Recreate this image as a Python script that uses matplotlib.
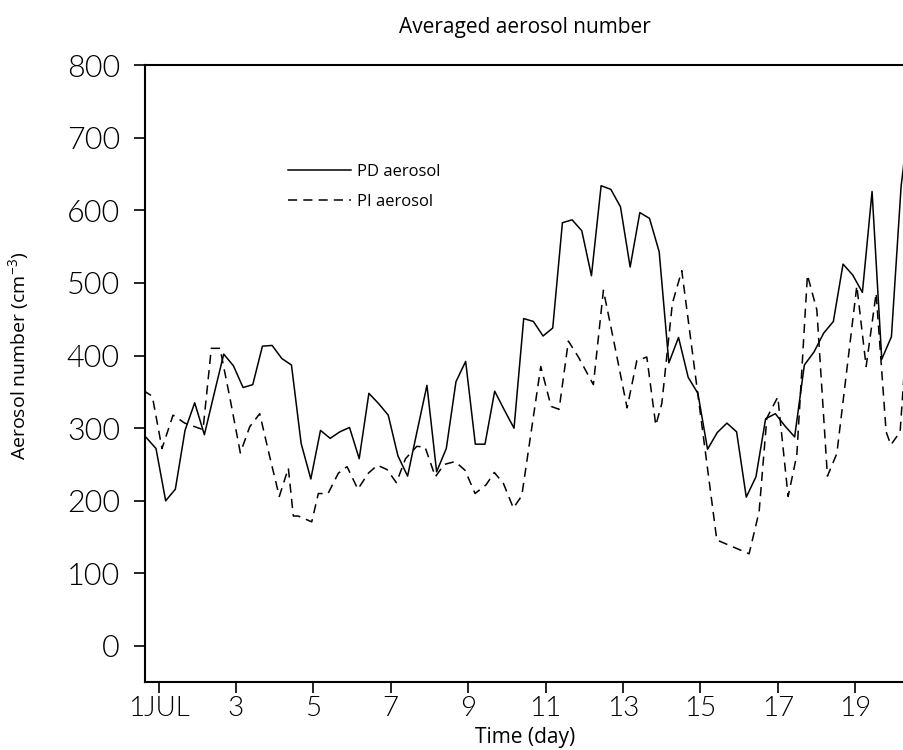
import numpy as np
import matplotlib
matplotlib.use("Agg")
import matplotlib.pyplot as plt
from matplotlib import font_manager as fm

# ---------------- data ----------------
# PD aerosol: regular 6-hourly samples starting at day 0.685
pd_start_day = 0.685
pd_step_day = 0.25
pd_aerosol = [287, 272, 200, 216, 297, 335, 291, 347, 402, 386,
              356, 360, 413, 414, 396, 387, 279, 230, 297, 286,
              295, 301, 258, 348, 334, 318, 262, 234, 297, 359,
              240, 272, 364, 392, 278, 278, 351, 325, 300, 451,
              447, 427, 438, 583, 587, 572, 510, 634, 629, 605,
              522, 597, 589, 543, 390, 425, 370, 348, 271, 294,
              307, 295, 205, 233, 313, 320, 303, 288, 387, 405,
              431, 447, 526, 511, 487, 626, 395, 426, 633, 745]

# PI aerosol: sample days and values
pi_day = [0.607, 0.840, 1.090, 1.375, 1.677, 2.150, 2.364, 2.589, 2.840, 3.114,
          3.357, 3.615, 3.863, 4.121, 4.354, 4.483, 4.612, 4.959, 5.129, 5.380,
          5.646, 5.871, 6.150, 6.421, 6.654, 6.904, 7.145, 7.382, 7.672, 7.886,
          8.153, 8.377, 8.661, 8.920, 9.178, 9.463, 9.675, 9.910, 10.168, 10.385,
          10.876, 11.142, 11.349, 11.589, 11.848, 12.235, 12.494, 12.796, 13.106, 13.357,
          13.615, 13.848, 14.003, 14.276, 14.519, 15.424, 16.258, 16.517, 16.716, 17.000,
          17.266, 17.491, 17.765, 18.008, 18.282, 18.525, 19.041, 19.282, 19.540, 19.798,
          19.920, 20.160, 20.417]
pi_aerosol = [352, 344, 272, 318, 307, 298, 410, 410, 343, 266,
              302, 320, 263, 206, 245, 179, 179, 171, 210, 210,
              238, 247, 216, 238, 249, 243, 225, 258, 275, 274,
              233, 250, 254, 242, 210, 222, 239, 224, 190, 207,
              385, 330, 326, 420, 398, 360, 490, 411, 328, 393,
              398, 304, 334, 472, 517, 146, 127, 185, 314, 343,
              206, 263, 511, 463, 234, 265, 496, 385, 486, 295,
              277, 295, 495]

xtick_days = [1, 3, 5, 7, 9, 11, 13, 15, 17, 19]
xtick_labels = ["1JUL", "3", "5", "7", "9", "11", "13", "15", "17", "19"]
ytick_values = [0, 100, 200, 300, 400, 500, 600, 700, 800]

title_text = "Averaged aerosol number"
xlabel_text = "Time (day)"
ylabel_text = r"Aerosol number (cm$^{-3}$)"
series_names = ["PD aerosol", "PI aerosol"]

# ---------------- fonts ----------------
avail = {f.name for f in fm.fontManager.ttflist}
def pick(*names):
    for n in names:
        if n in avail:
            return n
    return "DejaVu Sans"

label_font = pick("Liberation Sans Narrow", "Open Sans", "Noto Sans")
tick_font = pick("Lato", "Open Sans", "DejaVu Sans")
plt.rcParams["mathtext.fontset"] = "custom"
plt.rcParams["mathtext.rm"] = label_font
plt.rcParams["mathtext.it"] = label_font

# ---------------- figure ----------------
W, H = 904, 750
fig = plt.figure(figsize=(W / 100, H / 100), dpi=100)
left_px, right_px, top_px, bot_px = 145, 904, 65.2, 682
ax = fig.add_axes([left_px / W, 1 - bot_px / H,
                   (right_px - left_px) / W, (bot_px - top_px) / H])

pd_day = pd_start_day + pd_step_day * np.arange(len(pd_aerosol))
ax.plot(pd_day, pd_aerosol, color="black", lw=1.1, label=series_names[0])
ax.plot(pi_day, pi_aerosol, color="black", lw=1.1, dashes=(6, 4),
        label=series_names[1])

ax.set_xlim(0.651, 20.26)
ax.set_ylim(-49.6, 800)

ax.spines["right"].set_visible(False)
for s in ("left", "bottom", "top"):
    ax.spines[s].set_linewidth(1.5)

ax.set_xticks(xtick_days)
ax.set_xticklabels(xtick_labels)
ax.set_yticks(ytick_values)
ax.tick_params(axis="both", direction="out", length=8, width=1.2,
               labelsize=22, colors="black")
ax.tick_params(axis="x", labelsize=20, pad=2)
ax.tick_params(axis="y", pad=10)
for lab in ax.get_xticklabels() + ax.get_yticklabels():
    lab.set_fontfamily(tick_font)
    lab.set_fontweight(300)

leg = ax.legend(frameon=False, loc="upper left",
                bbox_to_anchor=((288 - left_px) / (right_px - left_px),
                                (bot_px - 164) / (bot_px - top_px)),
                borderpad=0, borderaxespad=0, handlelength=3.8,
                handletextpad=0.35, labelspacing=0.85,
                prop={"family": label_font, "size": 12})

fig.text(525 / W, 1 - 28 / H, title_text, ha="center", va="center",
         family=label_font, fontsize=15)
fig.text(525 / W, 1 - 737 / H, xlabel_text, ha="center", va="center",
         family=label_font, fontsize=15)
fig.text(19 / W, 1 - 356 / H, ylabel_text, ha="center", va="center",
         rotation=90, family=label_font, fontsize=14)

fig.savefig("out.png", dpi=100)
